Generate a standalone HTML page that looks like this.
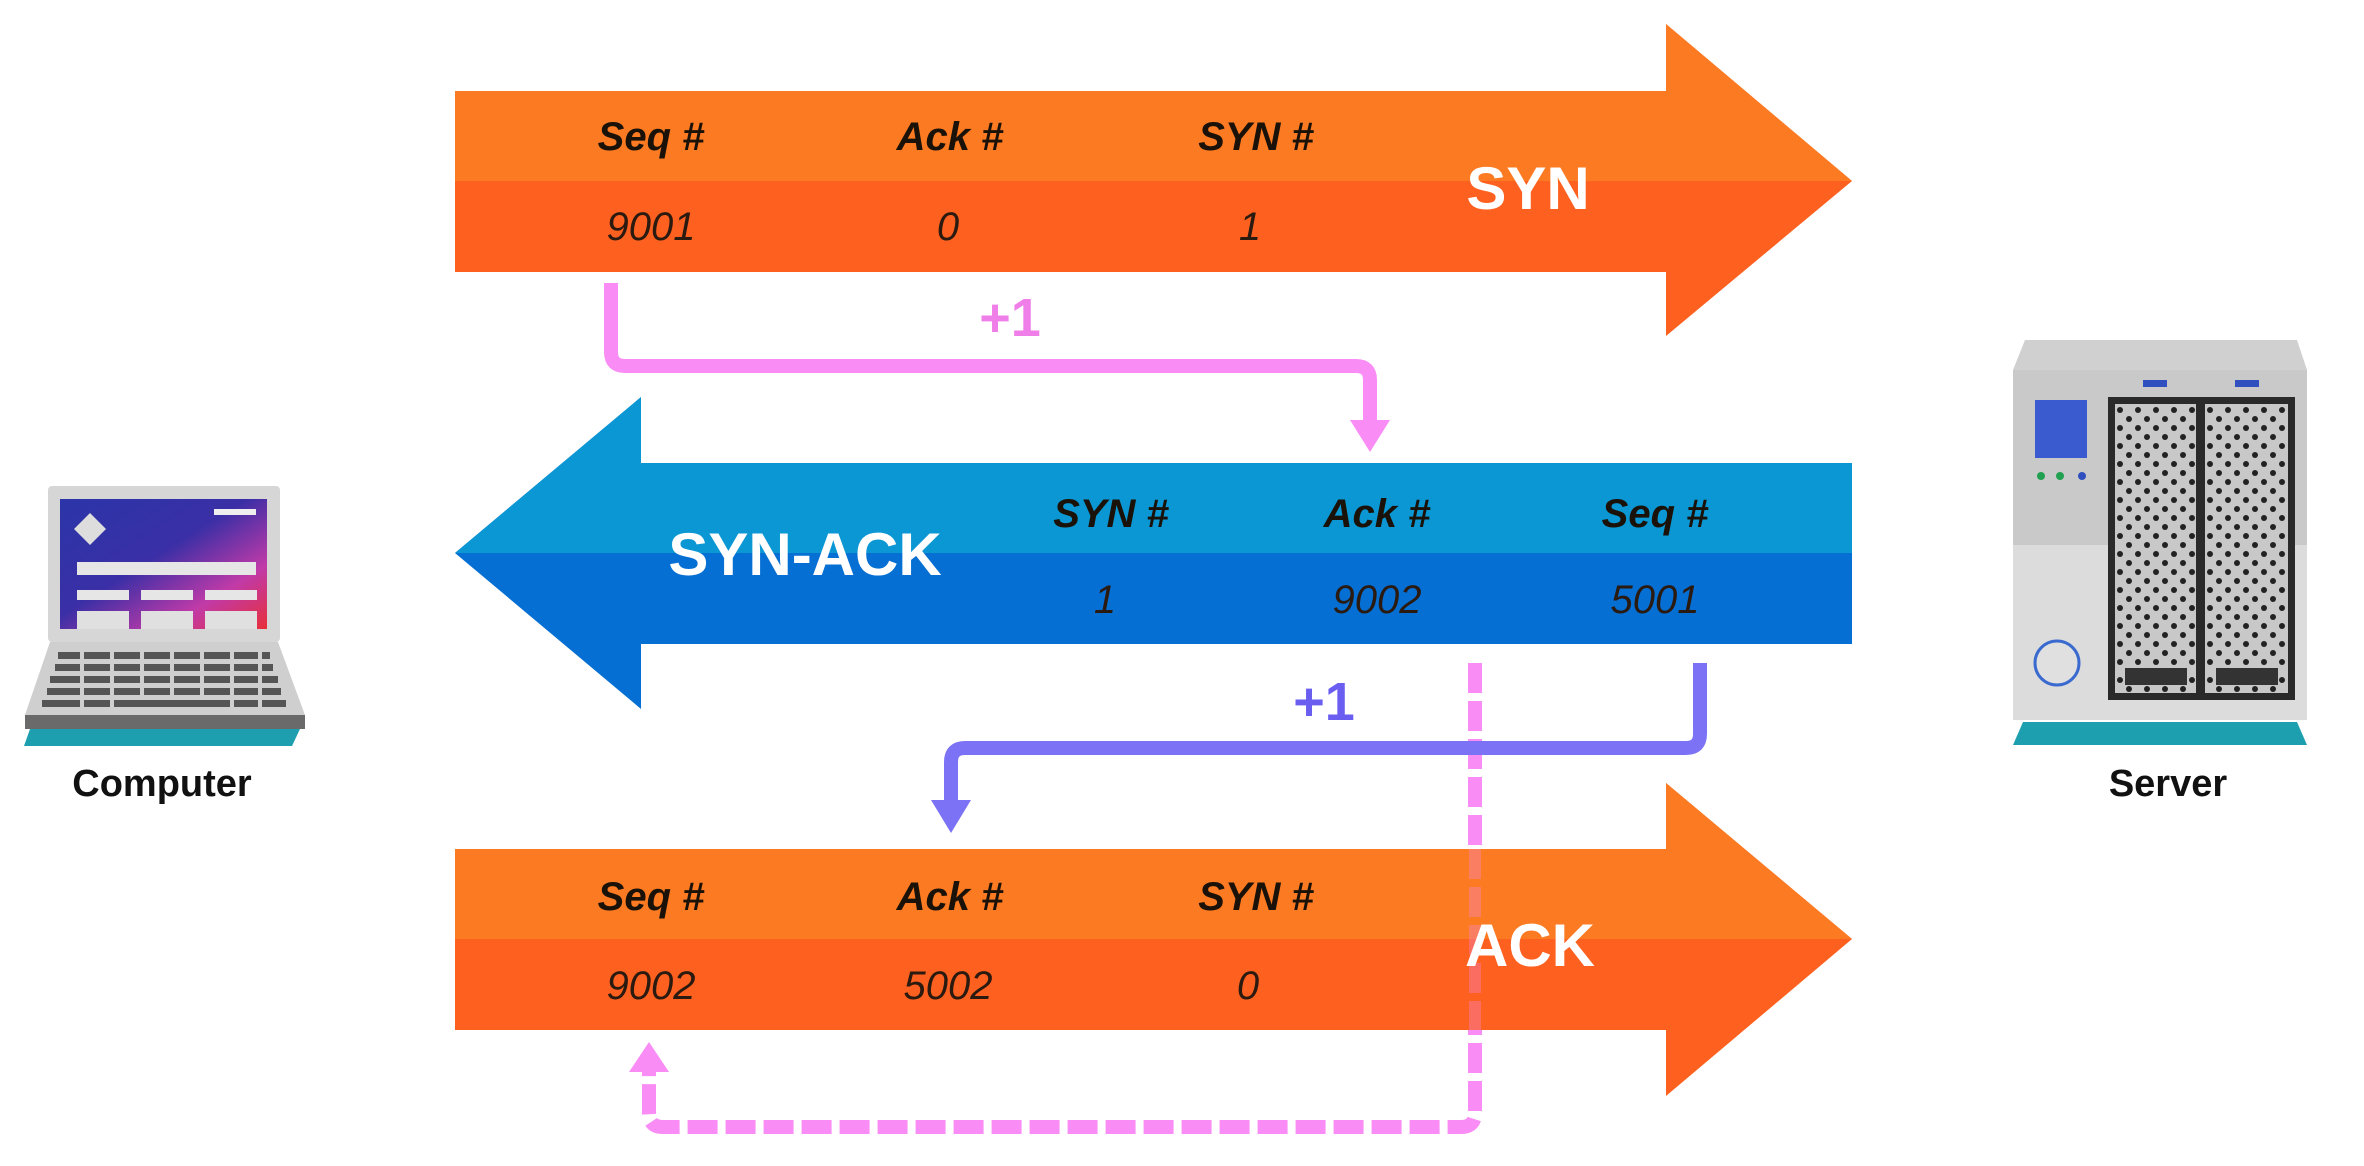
<!DOCTYPE html>
<html><head><meta charset="utf-8"><style>
html,body{margin:0;padding:0;background:#fff;}
svg{display:block}
.h{font-family:"Liberation Sans",sans-serif;font-weight:bold;font-style:italic;font-size:40px;fill:#1a1208}
.v{font-family:"Liberation Sans",sans-serif;font-style:italic;font-size:40px;fill:#2a1a10}
.big{font-family:"Liberation Sans",sans-serif;font-weight:bold;font-size:60px;fill:#fff}
.lab{font-family:"Liberation Sans",sans-serif;font-weight:bold;font-size:38px;fill:#111}
.p1{font-family:"Liberation Sans",sans-serif;font-weight:bold;font-size:54px}
</style></head><body>
<svg width="2364" height="1166" viewBox="0 0 2364 1166" xmlns="http://www.w3.org/2000/svg">
<defs>
<linearGradient id="scr" x1="0" y1="0" x2="1" y2="1"><stop offset="0" stop-color="#2b35a8"/><stop offset="0.45" stop-color="#3a2fa6"/><stop offset="0.75" stop-color="#c03aa8"/><stop offset="1" stop-color="#e8303a"/></linearGradient>
<pattern id="dots" width="18" height="18" patternUnits="userSpaceOnUse"><rect width="18" height="18" fill="#c8c8c8"/><circle cx="5" cy="5" r="3" fill="#222"/><circle cx="14" cy="14" r="3" fill="#222"/></pattern>
</defs>

<!-- SYN arrow -->
<polygon points="455,91 1666,91 1666,24 1852,181 1666,336 1666,272 455,272" fill="#fd601f"/>
<polygon points="455,91 1666,91 1666,24 1852,181 455,181" fill="#fb7a22"/>
<text class="h" x="651" y="150" text-anchor="middle">Seq #</text>
<text class="h" x="950" y="150" text-anchor="middle">Ack #</text>
<text class="h" x="1256" y="150" text-anchor="middle">SYN #</text>
<text class="v" x="651" y="240" text-anchor="middle">9001</text>
<text class="v" x="948" y="240" text-anchor="middle">0</text>
<text class="v" x="1250" y="240" text-anchor="middle">1</text>
<text class="big" x="1528" y="209" text-anchor="middle">SYN</text>

<!-- SYN-ACK arrow -->
<polygon points="1852,463 641,463 641,397 455,553 641,709 641,644 1852,644" fill="#066fd3"/>
<polygon points="1852,463 641,463 641,397 455,553 1852,553" fill="#0a97d3"/>
<text class="h" x="1111" y="527" text-anchor="middle">SYN #</text>
<text class="h" x="1377" y="527" text-anchor="middle">Ack #</text>
<text class="h" x="1655" y="527" text-anchor="middle">Seq #</text>
<text class="v" x="1105" y="613" text-anchor="middle">1</text>
<text class="v" x="1377" y="613" text-anchor="middle">9002</text>
<text class="v" x="1655" y="613" text-anchor="middle">5001</text>
<text class="big" x="805" y="575" text-anchor="middle">SYN-ACK</text>

<!-- pink connector 1 -->
<path d="M611,283 V352 Q611,366 625,366 H1356 Q1370,366 1370,380 V425" fill="none" stroke="#f98cf5" stroke-width="14"/>
<polygon points="1350,420 1390,420 1370,452" fill="#f98cf5"/>
<text class="p1" x="1010" y="336" text-anchor="middle" fill="#f07ee8">+1</text>

<!-- dashed pink -->
<path d="M1475,663 V1113 Q1475,1127 1461,1127 H663 Q649,1127 649,1113 V1068" fill="none" stroke="#f98cf5" stroke-width="14" stroke-dasharray="30 8"/>
<polygon points="629,1072 669,1072 649,1042" fill="#f98cf5"/>

<!-- purple connector -->
<path d="M1700,663 V734 Q1700,748 1686,748 H965 Q951,748 951,762 V805" fill="none" stroke="#7b72f5" stroke-width="14"/>
<polygon points="931,800 971,800 951,833" fill="#7b72f5"/>
<text class="p1" x="1324" y="720" text-anchor="middle" fill="#6a5ef0">+1</text>

<!-- ACK arrow -->
<polygon points="455,849 1666,849 1666,783 1852,939 1666,1096 1666,1030 455,1030" fill="#fd601f"/>
<polygon points="455,849 1666,849 1666,783 1852,939 455,939" fill="#fb7a22"/>
<line x1="1475" y1="849" x2="1475" y2="1030" stroke="#f98cf5" stroke-width="12" stroke-dasharray="30 8" opacity="0.3"/>
<text class="h" x="651" y="910" text-anchor="middle">Seq #</text>
<text class="h" x="950" y="910" text-anchor="middle">Ack #</text>
<text class="h" x="1256" y="910" text-anchor="middle">SYN #</text>
<text class="v" x="651" y="999" text-anchor="middle">9002</text>
<text class="v" x="948" y="999" text-anchor="middle">5002</text>
<text class="v" x="1248" y="999" text-anchor="middle">0</text>
<text class="big" x="1530" y="966" text-anchor="middle">ACK</text>

<!-- laptop -->
<rect x="48" y="486" width="232" height="156" rx="4" fill="#d6d6d6"/>
<rect x="60" y="499" width="207" height="130" fill="url(#scr)"/>
<polygon points="90,513 106,529 90,545 74,529" fill="#ddd"/>
<rect x="214" y="509" width="42" height="6" fill="#eee"/>
<rect x="77" y="562" width="179" height="13" fill="#e6e6e6"/>
<rect x="77" y="590" width="52" height="10" fill="#e6e6e6"/><rect x="141" y="590" width="52" height="10" fill="#e6e6e6"/><rect x="205" y="590" width="52" height="10" fill="#e6e6e6"/>
<rect x="77" y="611" width="52" height="18" fill="#e0e0e0"/><rect x="141" y="611" width="52" height="18" fill="#e0e0e0"/><rect x="205" y="611" width="52" height="18" fill="#e0e0e0"/>
<polygon points="50,642 278,642 305,715 25,715" fill="#cfcfcf"/>
<g fill="#555">
<rect x="58" y="652" width="212" height="7"/><rect x="55" y="664" width="218" height="7"/><rect x="50" y="676" width="228" height="7"/><rect x="47" y="688" width="234" height="7"/><rect x="42" y="700" width="244" height="7"/>
</g>
<g fill="#cfcfcf"><rect x="80" y="650" width="4" height="60"/><rect x="110" y="650" width="4" height="60"/><rect x="140" y="650" width="4" height="50"/><rect x="170" y="650" width="4" height="50"/><rect x="200" y="650" width="4" height="50"/><rect x="230" y="650" width="4" height="60"/><rect x="258" y="650" width="4" height="60"/></g>
<rect x="25" y="715" width="280" height="14" fill="#6a6a6a"/>
<polygon points="30,729 300,729 292,746 24,746" fill="#1e9fb0"/>
<text class="lab" x="162" y="796" text-anchor="middle">Computer</text>

<!-- server -->
<polygon points="2025,340 2297,340 2307,370 2013,370" fill="#d0d0d0"/>
<rect x="2013" y="370" width="294" height="175" fill="#c9c9c9"/>
<rect x="2013" y="545" width="294" height="175" fill="#dcdcdc"/>
<rect x="2143" y="380" width="24" height="7" fill="#3050c0"/><rect x="2235" y="380" width="24" height="7" fill="#3050c0"/>
<rect x="2035" y="400" width="52" height="58" fill="#3a5bd0"/>
<circle cx="2041" cy="476" r="4" fill="#20a050"/><circle cx="2060" cy="476" r="4" fill="#20a050"/><circle cx="2082" cy="476" r="4" fill="#3050c0"/>
<circle cx="2057" cy="663" r="22" fill="#e0e0e0" stroke="#3a6ad0" stroke-width="3"/>
<rect x="2108" y="397" width="187" height="303" fill="#2a2a2a"/>
<rect x="2115" y="404" width="81" height="289" fill="url(#dots)"/>
<rect x="2205" y="404" width="83" height="289" fill="url(#dots)"/>
<rect x="2125" y="668" width="62" height="17" fill="#333"/><rect x="2216" y="668" width="62" height="17" fill="#333"/>
<polygon points="2023,722 2297,722 2307,745 2013,745" fill="#1e9fb0"/>
<text class="lab" x="2168" y="796" text-anchor="middle">Server</text>
</svg>
</body></html>
